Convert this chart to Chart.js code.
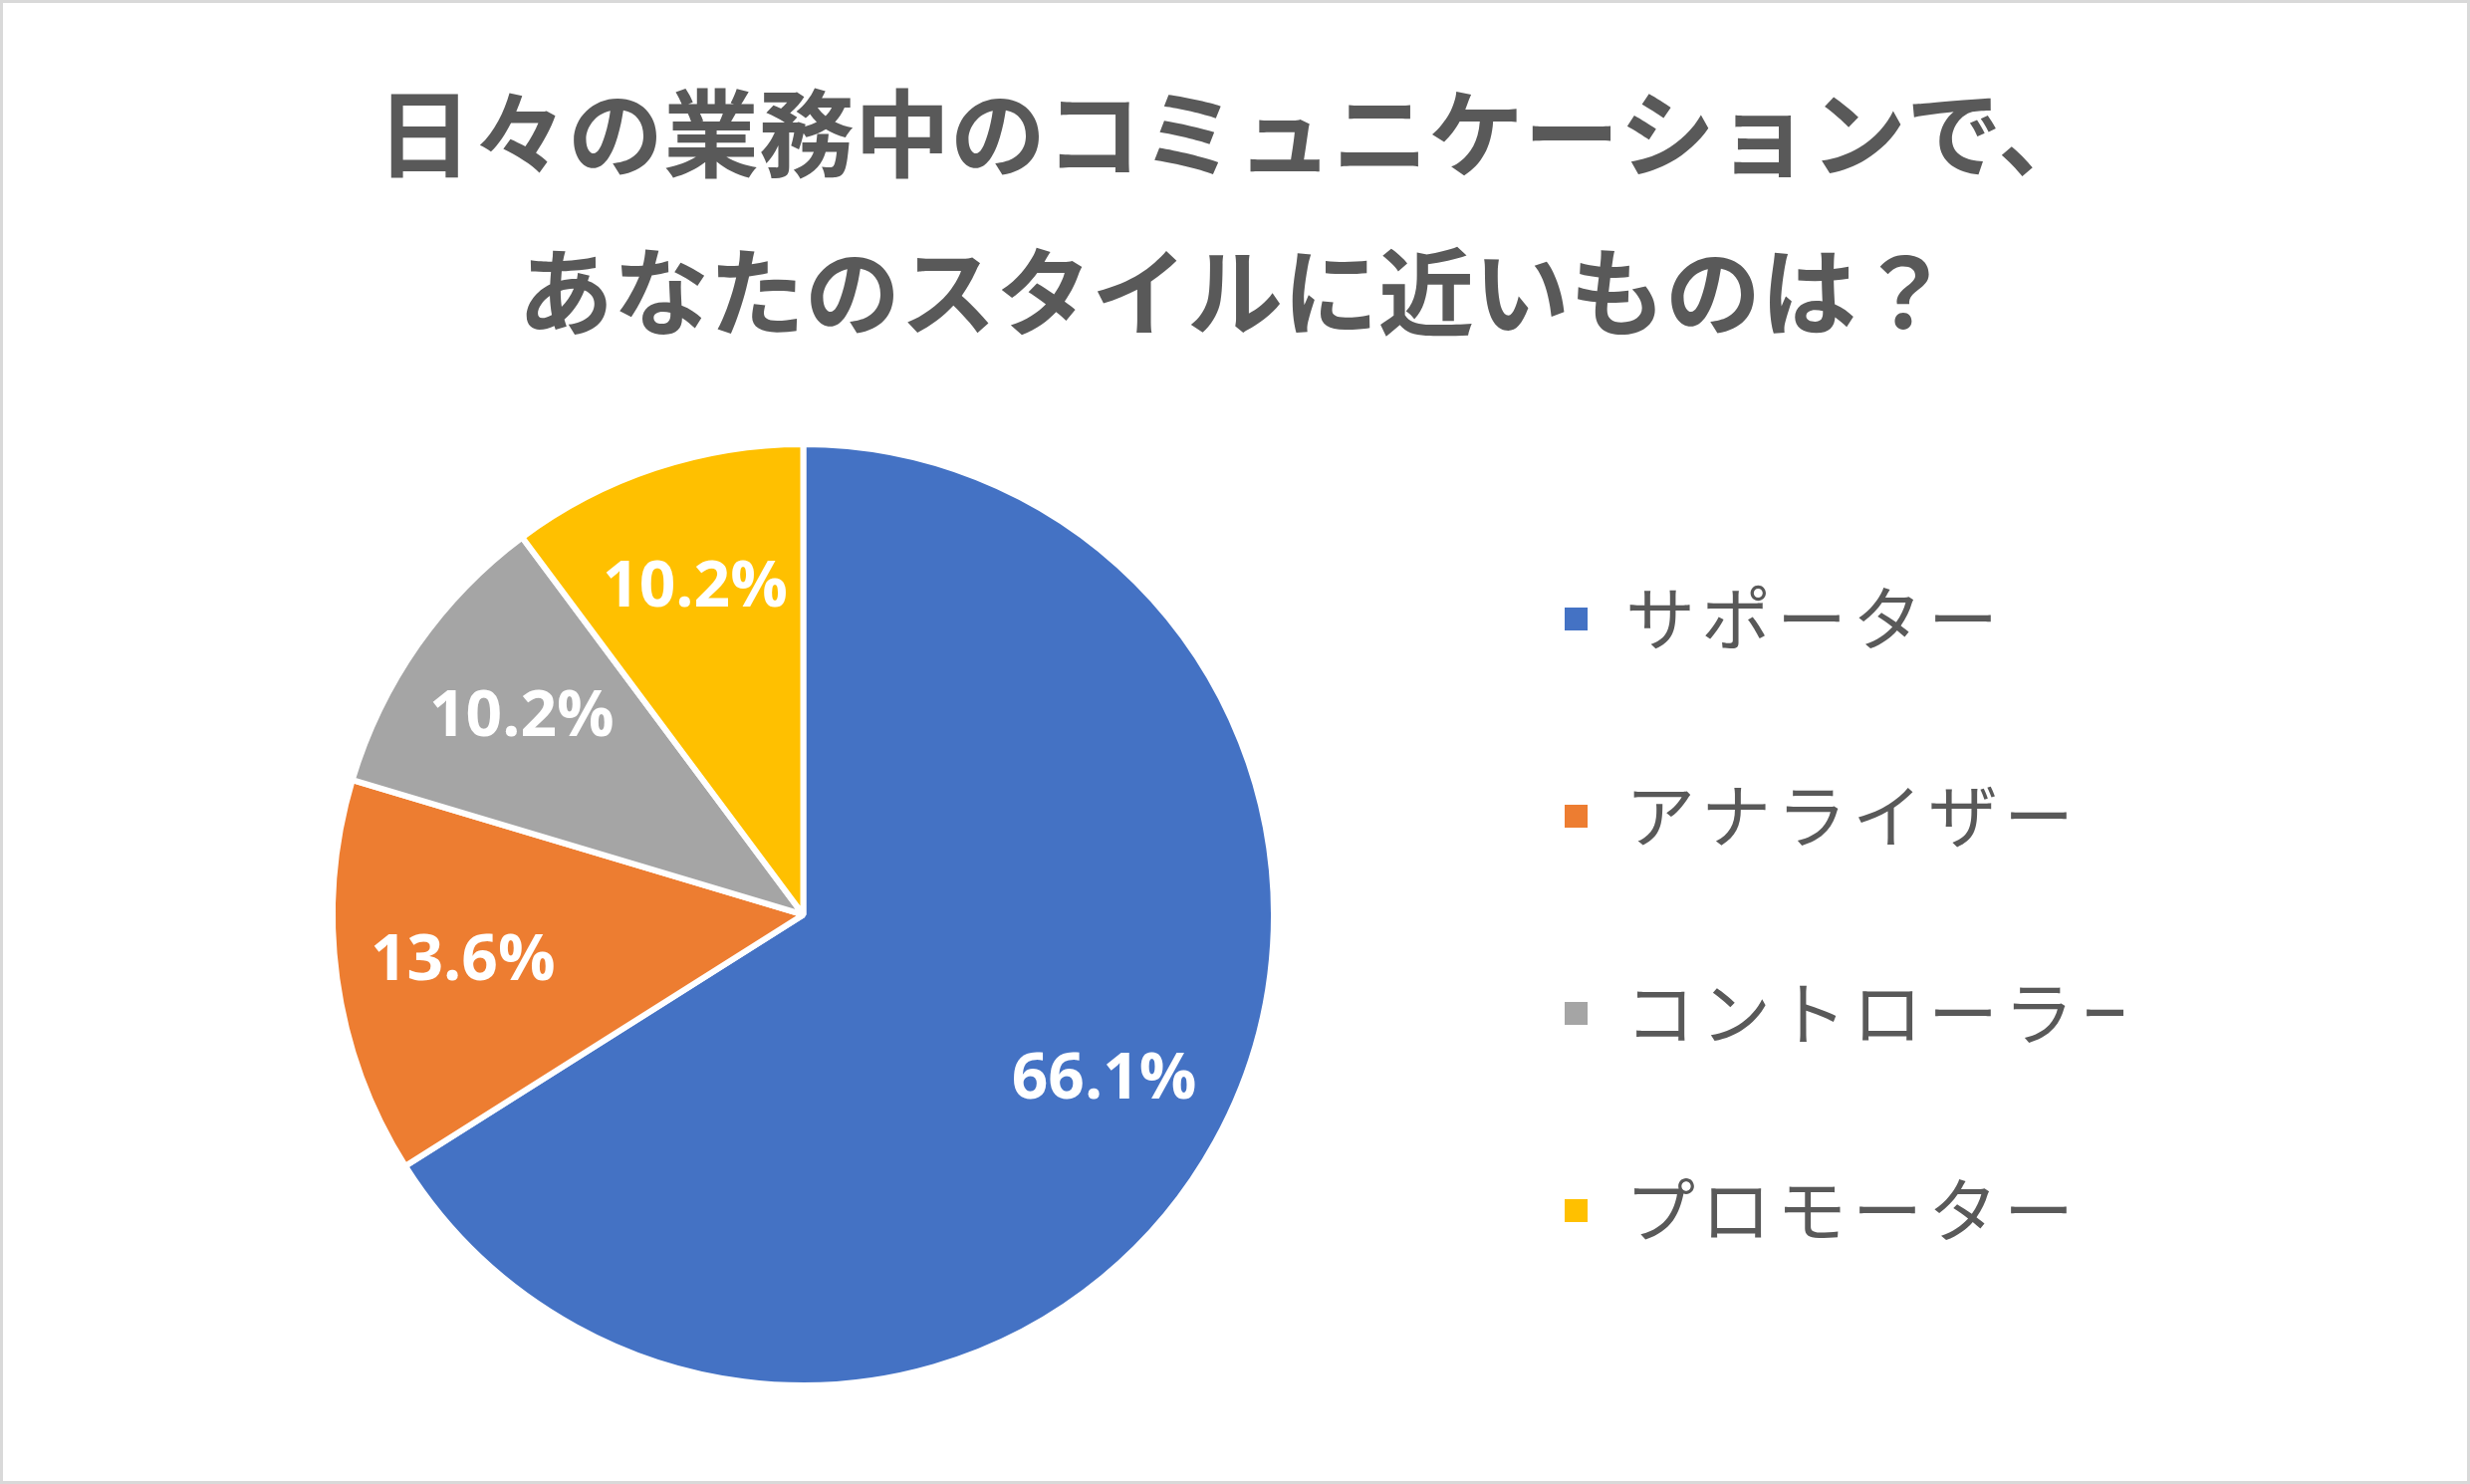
<!DOCTYPE html>
<html><head><meta charset="utf-8">
<script src="https://cdn.jsdelivr.net/npm/chart.js@4.4.1/dist/chart.umd.min.js"></script>
<style>
html,body{margin:0;padding:0;background:#fff;overflow:hidden}
#wrap{position:relative;width:2480px;height:1490px}
#frame{position:absolute;left:0;top:0;width:2480px;height:1490px;box-sizing:border-box;border:3px solid #D9D9D9;pointer-events:none}
canvas{display:block}
</style></head><body>
<div id="wrap"><canvas id="c" width="2480" height="1490"></canvas><div id="frame"></div></div>
<script>
const titleLines = ['日々の業務中のコミュニケーションで、', 'あなたのスタイルに近いものは？'];
const categories = ['サポーター', 'アナライザー', 'コントローラー', 'プロモーター'];
const values = [66.1, 13.6, 10.2, 10.2];
const colors = ['#4472C4', '#ED7D31', '#A5A5A5', '#FFC000'];

const pctLabels = {
  id: 'pctLabels',
  afterDatasetsDraw(chart) {
    const ctx = chart.ctx;
    const meta = chart.getDatasetMeta(0);
    ctx.save();
    ctx.font = 'bold 64px "Open Sans"';
    ctx.fillStyle = '#FFFFFF';
    ctx.textAlign = 'center';
    ctx.textBaseline = 'middle';
    meta.data.forEach((arc, i) => {
      const p = arc.getProps(['x', 'y', 'startAngle', 'endAngle', 'outerRadius'], true);
      const mid = (p.startAngle + p.endAngle) / 2;
      const r = p.outerRadius * 0.73;
      ctx.fillText(values[i].toFixed(1) + '%', p.x + Math.cos(mid) * r, p.y + Math.sin(mid) * r);
    });
    ctx.restore();
  }
};

// Centre the title on the whole canvas and give the legend text a little letter spacing
const layoutTweaks = {
  id: 'layoutTweaks',
  afterLayout(chart) {
    if (chart.titleBlock) {
      chart.titleBlock.left = 0;
      chart.titleBlock.right = chart.width;
      chart.titleBlock.width = chart.width;
    }
    const lg = chart.legend;
    if (lg && !lg._spacingPatched) {
      const orig = lg.draw.bind(lg);
      lg.draw = function (...args) {
        const ctx = chart.ctx;
        ctx.save();
        if ('letterSpacing' in ctx) ctx.letterSpacing = '6px';
        orig(...args);
        ctx.restore();
      };
      lg._spacingPatched = true;
    }
  }
};

new Chart(document.getElementById('c'), {
  type: 'pie',
  data: {
    labels: categories,
    datasets: [{
      data: values,
      backgroundColor: colors,
      borderColor: '#FFFFFF',
      borderWidth: 6
    }]
  },
  options: {
    responsive: false,
    devicePixelRatio: 1,
    animation: false,
    layout: { padding: { left: 173, right: 348, top: 0, bottom: 96 } },
    plugins: {
      tooltip: { enabled: false },
      title: {
        display: true,
        text: titleLines,
        color: '#595959',
        font: { family: '"Noto Sans CJK JP"', size: 96, weight: 'bold', lineHeight: 1.656 },
        padding: { top: 54, bottom: 71 }
      },
      legend: {
        display: true,
        position: 'right',
        align: 'center',
        fullSize: false,
        labels: {
          color: '#595959',
          font: { family: '"Noto Sans CJK JP"', size: 70, weight: 'normal' },
          boxWidth: 29,
          boxHeight: 29,
          padding: 128
        }
      }
    }
  },
  plugins: [pctLabels, layoutTweaks]
});
</script>
</body></html>
